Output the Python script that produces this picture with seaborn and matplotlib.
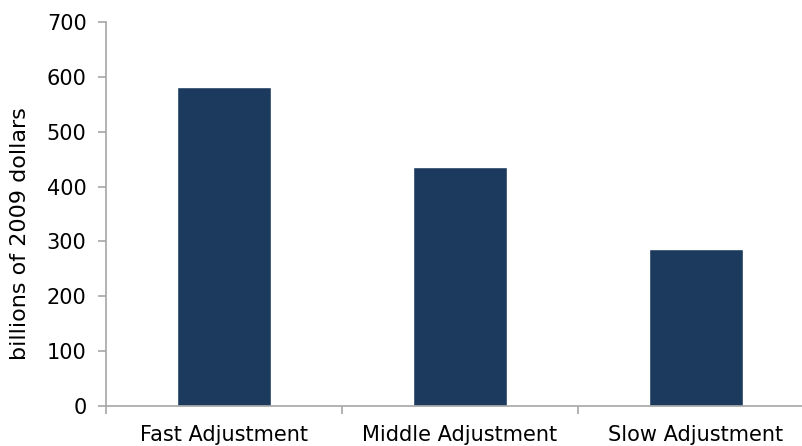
import matplotlib
matplotlib.use('Agg')
import matplotlib.pyplot as plt
import seaborn as sns
import pandas as pd

# Chart data
scenarios = ['Fast Adjustment', 'Middle Adjustment', 'Slow Adjustment']
values = [582, 435, 287]
y_ticks = [0, 100, 200, 300, 400, 500, 600, 700]

df = pd.DataFrame({'scenario': scenarios, 'value': values})

sns.set_style('white')
plt.rcParams['font.family'] = ['DejaVu Sans']
plt.rcParams['text.color'] = 'black'
plt.rcParams['axes.labelcolor'] = 'black'
plt.rcParams['xtick.labelcolor'] = 'black'
plt.rcParams['ytick.labelcolor'] = 'black'

fig = plt.figure(figsize=(8.03, 4.46), dpi=100)
# axes runs past the right edge of the figure, like the original
ax = fig.add_axes([106 / 803, 40 / 446, 708 / 803, 384 / 446])

sns.barplot(data=df, x='scenario', y='value', color='#1b3a5e',
            width=0.4, saturation=1, ax=ax)

ax.set_xlim(-0.5, 2.5)
ax.set_ylim(0, 700)
ax.set_yticks(y_ticks)
ax.set_xlabel('')
ax.set_ylabel('billions of 2009 dollars', fontsize=16)
ax.yaxis.set_label_coords(-0.108, 0.45)

# category labels centred, tick marks at the category boundaries
ax.set_xticks(range(len(scenarios)))
ax.set_xticklabels(scenarios)
ax.set_xticks([-0.5, 0.5, 1.5], minor=True)
ax.tick_params(axis='x', which='major', length=0, pad=14, labelsize=15)
ax.tick_params(axis='x', which='minor', length=6, width=1.2, color='#a6a6a6',
               direction='out', bottom=True)
ax.tick_params(axis='y', length=6, width=1.2, color='#a6a6a6', direction='out',
               left=True, pad=8, labelsize=15)

sns.despine(ax=ax)
for side in ['left', 'bottom']:
    ax.spines[side].set_color('#a6a6a6')
    ax.spines[side].set_linewidth(1.2)

fig.savefig('out.png', dpi=100)
